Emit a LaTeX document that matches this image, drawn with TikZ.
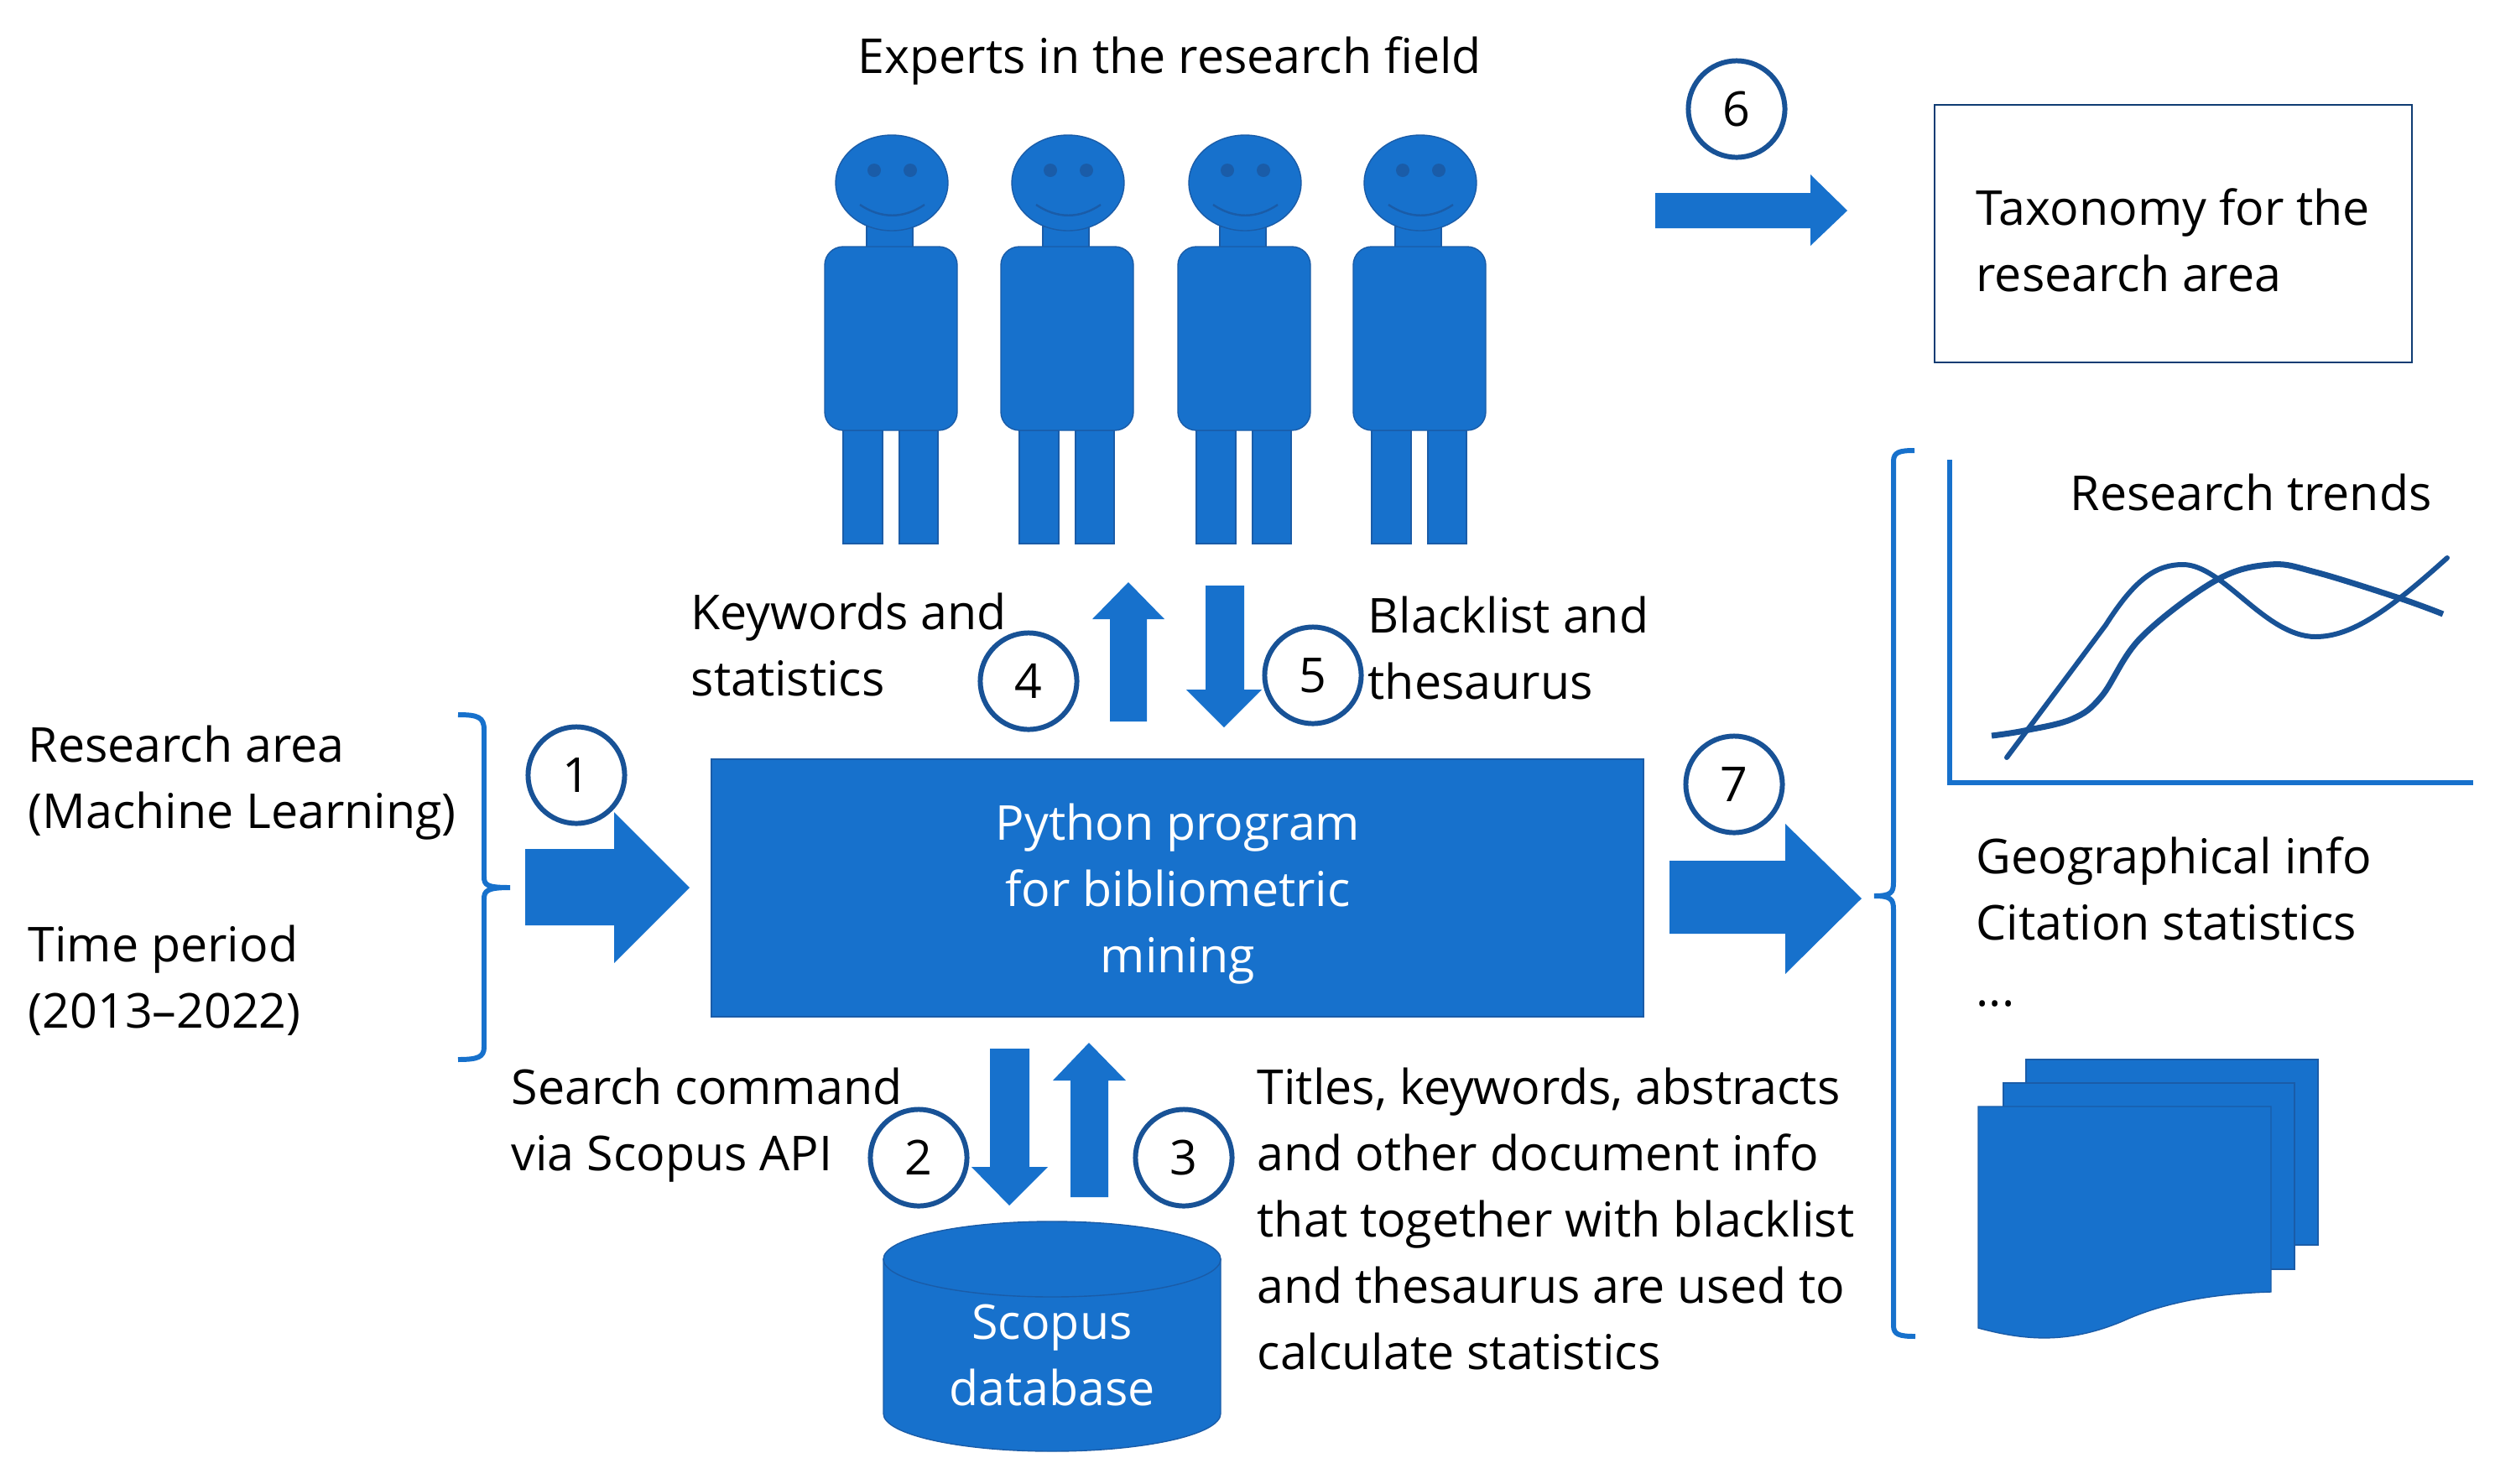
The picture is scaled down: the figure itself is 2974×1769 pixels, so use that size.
\documentclass[tikz,border=0pt]{standalone}
\usepackage{fontspec}
\setmainfont{Open Sans}
\definecolor{blockblue}{RGB}{23,113,204}
\definecolor{edgeblue}{RGB}{26,92,168}
\definecolor{ringblue}{RGB}{24,82,150}
\definecolor{navyline}{RGB}{15,60,115}
\tikzset{
    txt/.style={font=\fontsize{16.3}{22.4}\selectfont,align=left,anchor=base west,inner sep=0pt,text=black},
    whitetxt/.style={font=\fontsize{16.3}{22.4}\selectfont,align=center,anchor=base,inner sep=0pt,text=white},
    stepcircle/.style={circle,draw=ringblue,line width=1.7pt,fill=white,minimum size=1.15cm,inner sep=0pt,font=\fontsize{16.3}{22.4}\selectfont},
    blockarrow/.style={fill=blockblue},
    shapepart/.style={fill=blockblue,draw=edgeblue,line width=0.4pt},
    bracket/.style={draw=blockblue,line width=1.7pt},
    trend/.style={draw=ringblue,line width=1.7pt,line cap=round}
}
\begin{document}
\begin{tikzpicture}[x=0.01cm,y=-0.01cm]
    \useasboundingbox (0,0) rectangle (2974,1769);
    % Experts
    \foreach \px in {0,210,421,630} {
        \begin{scope}[shift={(\px,0)}]
            \draw [shapepart] (1033,270) rectangle (1088,300);
            \draw [shapepart] (1063,218) ellipse (67 and 57);
            \fill [edgeblue] (1042,203) circle (8);
            \fill [edgeblue] (1085,203) circle (8);
            \draw [edgeblue,line width=0.7pt] (1025,244) .. controls (1050,261) and (1077,261) .. (1102,244);
            \draw [shapepart] (1005,513) rectangle (1052,648);
            \draw [shapepart] (1072,513) rectangle (1118,648);
            \draw [shapepart,rounded corners=0.22cm] (983,294) rectangle (1141,513);
        \end{scope}
    }
    \node [txt] (experts) at (1022,87) {Experts in the research field};
    % Taxonomy
    \draw [navyline,line width=0.8pt] (2306,125) rectangle (2875,432);
    \node [txt] (taxonomy) at (2355,347) {Taxonomy for the\\research area};
    \fill [blockarrow] (1973,230) -- (2158,230) -- (2158,208) -- (2202,251) -- (2158,293) -- (2158,272) -- (1973,272) -- cycle;
    \node [stepcircle] (six) at (2070,130) {6};
    % Inputs
    \node [txt] (area) at (33,987) {Research area\\(Machine Learning)};
    \node [txt] (period) at (33,1225) {Time period\\(2013--2022)};
    \draw [bracket] (546,852) .. controls (570,852) and (577,855) .. (577,870) -- (577,1045)
        .. controls (577,1055) and (580,1058) .. (608,1058) .. controls (580,1058) and (577,1062) .. (577,1072)
        -- (577,1248) .. controls (577,1260) and (570,1263) .. (546,1263);
    \fill [blockarrow] (626,1012) -- (732,1012) -- (732,968) -- (822,1058) -- (732,1148) -- (732,1103) -- (626,1103) -- cycle;
    \node [stepcircle] (one) at (687,924) {1};
    % Program
    \draw [shapepart] (848,905) rectangle (1959,1212);
    \node [whitetxt] (python) at (1404,1159) {Python program\\for bibliometric\\mining};
    % Experts arrows
    \node [txt] (keywords) at (823,829) {Keywords and\\statistics};
    \node [txt] (blacklist) at (1630,833) {Blacklist and\\thesaurus};
    \fill [blockarrow] (1323,860) -- (1323,738) -- (1302,738) -- (1345,694) -- (1388,738) -- (1367,738) -- (1367,860) -- cycle;
    \fill [blockarrow] (1437,698) -- (1483,698) -- (1483,822) -- (1504,822) -- (1459,867) -- (1414,822) -- (1437,822) -- cycle;
    \node [stepcircle] (four) at (1226,812) {4};
    \node [stepcircle] (five) at (1565,805) {5};
    % Database
    \draw [shapepart] (1053,1501) -- (1053,1685) arc [start angle=180,end angle=360,x radius=201,y radius=-45] -- (1455,1501) -- cycle;
    \draw [shapepart] (1254,1501) ellipse (201 and 45);
    \node [whitetxt] (scopus) at (1254,1675) {Scopus\\database};
    \node [txt] (search) at (609,1395) {Search command\\via Scopus API};
    \node [txt] (titles) at (1498,1632) {Titles, keywords, abstracts\\and other document info\\that together with blacklist\\and thesaurus are used to\\calculate statistics};
    \fill [blockarrow] (1180,1250) -- (1227,1250) -- (1227,1391) -- (1249,1391) -- (1203,1437) -- (1158,1391) -- (1180,1391) -- cycle;
    \fill [blockarrow] (1276,1427) -- (1276,1288) -- (1255,1288) -- (1298,1243) -- (1342,1288) -- (1321,1288) -- (1321,1427) -- cycle;
    \node [stepcircle] (two) at (1095,1380) {2};
    \node [stepcircle] (three) at (1411,1380) {3};
    % Outputs
    \fill [blockarrow] (1990,1026) -- (2128,1026) -- (2128,982) -- (2219,1071) -- (2128,1161) -- (2128,1113) -- (1990,1113) -- cycle;
    \node [stepcircle] (seven) at (2067,935) {7};
    \draw [bracket] (2282,537) .. controls (2264,537) and (2257,539) .. (2257,550) -- (2257,1052)
        .. controls (2257,1064) and (2254,1068) .. (2234,1068) .. controls (2254,1068) and (2257,1072) .. (2257,1084)
        -- (2257,1580) .. controls (2257,1591) and (2264,1593) .. (2283,1593);
    % Trends
    \draw [blockblue,line width=1.8pt] (2324,548) -- (2324,933) -- (2948,933);
    \draw [trend,line cap=butt,line width=2pt] plot [smooth,tension=0.6] coordinates {(2374,877) (2413,871) (2470,857) (2505,830) (2552,760) (2641,692) (2706,673) (2760,682) (2860,713) (2912,732)};
    \draw [trend] (2392,903) -- (2510,745) .. controls (2545,690) and (2570,673) .. (2602,673)
        .. controls (2650,673) and (2700,759) .. (2760,759) .. controls (2805,759) and (2850,725) .. (2917,665);
    \node [txt] (trends) at (2467,608) {Research trends};
    \node [txt] (geo) at (2355,1199) {Geographical info\\Citation statistics\\...};
    % Documents
    \draw [shapepart] (2415,1263) rectangle (2763,1484);
    \draw [shapepart] (2388,1291) rectangle (2735,1513);
    \draw [shapepart] (2358,1319) -- (2707,1319) -- (2707,1540) .. controls (2640,1542) and (2580,1552) .. (2530,1575) .. controls (2470,1600) and (2420,1600) .. (2358,1583) -- cycle;
\end{tikzpicture}
\end{document}
